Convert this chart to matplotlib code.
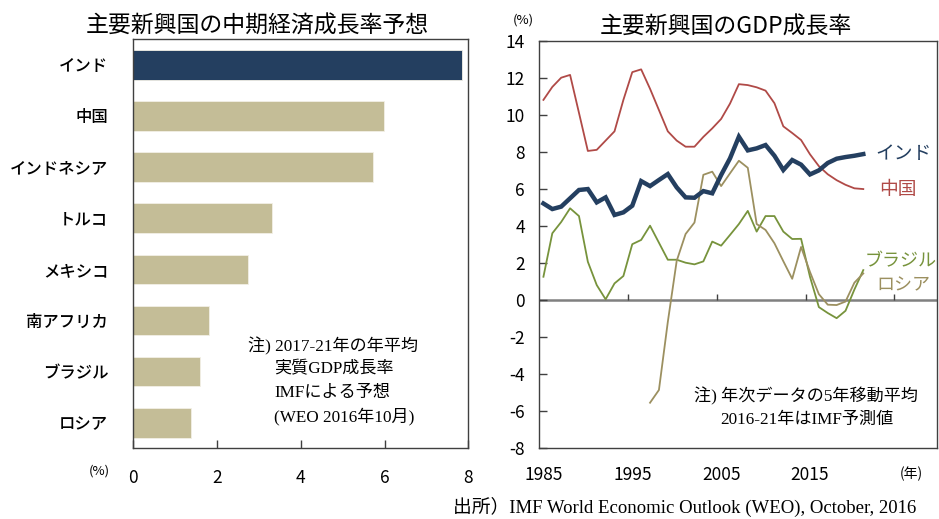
import matplotlib
matplotlib.use("Agg")
import matplotlib.pyplot as plt

plt.rcParams["font.family"] = ["Noto Sans CJK JP", "DejaVu Sans"]
plt.rcParams["axes.unicode_minus"] = False

# left chart: medium-term growth forecast (2017-21 average)
countries = ["インド", "中国", "インドネシア", "トルコ", "メキシコ", "南アフリカ", "ブラジル", "ロシア"]
forecast = [7.84, 5.98, 5.73, 3.30, 2.75, 1.81, 1.59, 1.37]

# right chart: 5-year moving average of real GDP growth
years = list(range(1985, 2022))
india = [5.2, 4.9, 5.03, 5.48, 5.93, 5.98, 5.26, 5.53, 4.58, 4.72,
         5.08, 6.41, 6.14, 6.47, 6.79, 6.07, 5.53, 5.51, 5.87, 5.75,
         6.74, 7.64, 8.81, 8.07, 8.18, 8.36, 7.78, 7.01, 7.55, 7.3,
         6.77, 6.99, 7.39, 7.62, 7.71, 7.78, 7.87]
china = [10.8, 11.5, 12.0, 12.15, 10.1, 8.04, 8.1, 8.6, 9.1, 10.8,
         12.3, 12.45, 11.4, 10.25, 9.1, 8.6, 8.27, 8.27, 8.8, 9.26,
         9.77, 10.6, 11.65, 11.6, 11.48, 11.3, 10.62, 9.37, 9.01, 8.63,
         7.86, 7.22, 6.78, 6.46, 6.21, 6.02, 5.98]
brazil = [1.24, 3.59, 4.2, 4.94, 4.52, 2.05, 0.79, 0.02, 0.88, 1.28,
          3.0, 3.23, 4.0, 3.08, 2.16, 2.16, 2.0, 1.91, 2.07, 3.14,
          2.92, 3.5, 4.09, 4.8, 3.68, 4.52, 4.52, 3.68, 3.28, 3.29,
          1.24, -0.4, -0.72, -1.0, -0.6, 0.55, 1.6]
russia_years = list(range(1997, 2022))
russia = [-5.57, -4.88, -1.2, 2.1, 3.55, 4.17, 6.75, 6.92, 6.14, 6.83,
          7.51, 7.13, 4.09, 3.77, 3.05, 2.08, 1.13, 2.85, 1.5, 0.3,
          -0.27, -0.29, -0.1, 0.92, 1.42]

decade_labels = ["1985", "1995", "2005", "2015"]

NAVY = "#243F60"
TAN = "#C4BD97"
RED = "#B04A47"
GREEN = "#77933C"
OLIVE = "#9C9060"
FRAME = "#404040"

fig = plt.figure(figsize=(9.39, 5.19), dpi=100)
fig.patch.set_facecolor("white")

# ---------------- left: bar chart ----------------
ax1 = fig.add_axes([0.142, 0.1362, 0.3567, 0.7881])
pos = list(range(len(countries)))
colors = [NAVY] + [TAN] * (len(countries) - 1)
ax1.barh(pos, forecast, height=0.58, color=colors, edgecolor="#F2F0E6", linewidth=0.6)
ax1.set_xlim(0, 8)
ax1.set_ylim(len(countries) - 0.5, -0.5)
ax1.set_yticks(pos)
ax1.set_yticklabels(countries, fontsize=11.8, fontweight="medium")
ax1.set_xticks([0, 2, 4, 6, 8])
ax1.tick_params(axis="y", length=0, pad=18)
ax1.tick_params(axis="x", direction="in", length=6, width=1, color=FRAME,
                labelsize=12.5, pad=15)
for s in ax1.spines.values():
    s.set_color(FRAME)
    s.set_linewidth(1)
ax1.set_title("主要新興国の中期経済成長率予想", fontsize=16.5, x=0.369, pad=5)
fig.text(0.106, 0.093, "(%)", fontsize=9.5, ha="center", va="center")

note_font = ["Liberation Serif", "Noto Sans CJK JP"]
ax1.text(2.74, 5.51, "注) 2017-21年の年平均", fontsize=12.3, family=note_font, va="center")
ax1.text(3.36, 5.96, "実質GDP成長率", fontsize=12.3, family=note_font, va="center")
ax1.text(3.36, 6.42, "IMFによる予想", fontsize=12.3, family=note_font, va="center")
ax1.text(3.36, 6.87, "(WEO 2016年10月)", fontsize=12.3, family=note_font, va="center")

# ---------------- right: line chart ----------------
ax2 = fig.add_axes([0.574, 0.1374, 0.4239, 0.7842])
ax2.axhline(0, color="#808080", linewidth=1.8, zorder=1)
ax2.plot(years, china, color=RED, linewidth=1.3, zorder=3)
ax2.plot(years, brazil, color=GREEN, linewidth=1.3, zorder=3)
ax2.plot(russia_years, russia, color=OLIVE, linewidth=1.3, zorder=3)
ax2.plot(years, india, color=NAVY, linewidth=3.2, solid_joinstyle="miter", zorder=4)

ax2.set_xlim(1984.5, 2029.3)
ax2.set_ylim(-8, 14)
ax2.set_yticks(range(-8, 15, 2))
ax2.tick_params(axis="y", direction="in", length=6, width=1, color=FRAME,
                labelsize=12.5, pad=10)
ax2.set_xticks([int(y) for y in decade_labels])
ax2.set_xticklabels(decade_labels)
ax2.tick_params(axis="x", length=0, labelsize=12.5, pad=13)
# category boundary tick marks sit on the zero line
ax2.vlines([1994.5, 2004.5, 2014.5, 2024.5], 0, 0.33, color=FRAME, linewidth=1, zorder=2)
for s in ax2.spines.values():
    s.set_color(FRAME)
    s.set_linewidth(1)
ax2.set_title("主要新興国のGDP成長率", fontsize=16.5, x=0.47, pad=5)
fig.text(0.557, 0.962, "(%)", fontsize=9.5, ha="center", va="center")
fig.text(0.971, 0.087, "(年)", fontsize=10, ha="center", va="center")

ax2.text(2022.4, 7.9, "インド", color=NAVY, fontsize=13.5, va="center")
ax2.text(2022.8, 5.93, "中国", color=RED, fontsize=13.5, va="center")
ax2.text(2021.2, 2.05, "ブラジル", color=GREEN, fontsize=13, va="center")
ax2.text(2022.5, 0.8, "ロシア", color=OLIVE, fontsize=13, va="center")

ax2.text(2014.6, -5.24, "注) 年次データの5年移動平均", fontsize=12.3, family=note_font,
         ha="center", va="center")
ax2.text(2014.6, -6.5, "2016-21年はIMF予測値", fontsize=12.3, family=note_font,
         ha="center", va="center")

fig.text(0.482, 0.023, "出所）IMF World Economic Outlook (WEO), October, 2016",
         fontsize=13.5, family=note_font, ha="left", va="center")

fig.savefig("out.png", dpi=100, facecolor="white")
